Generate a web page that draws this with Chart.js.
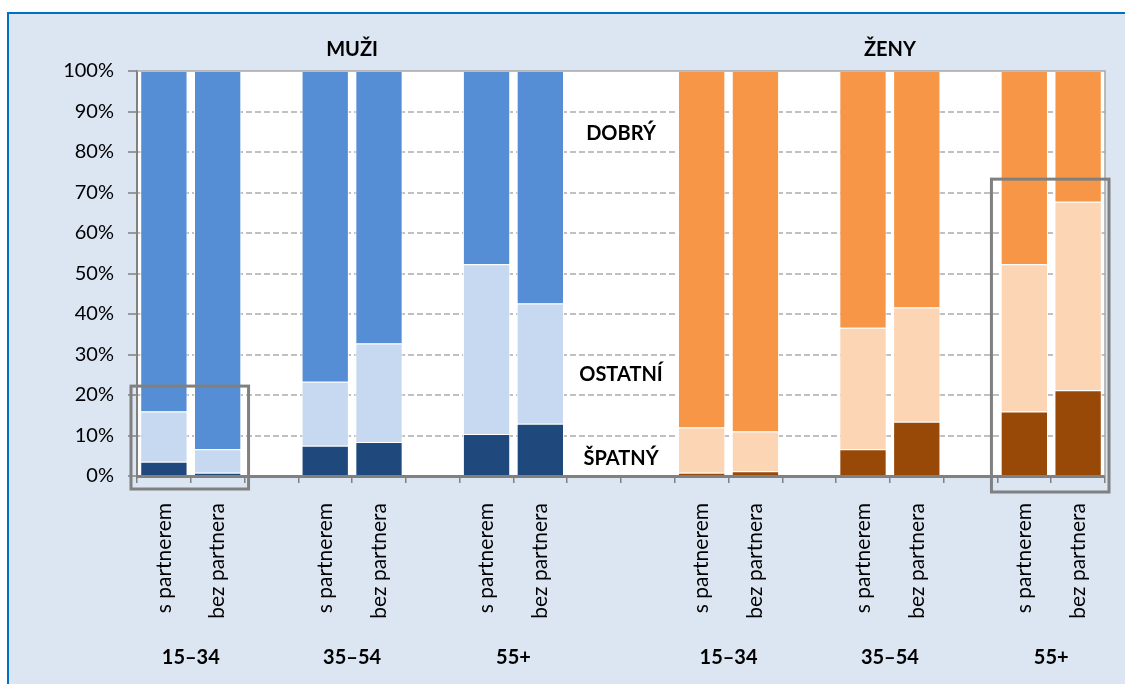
<!DOCTYPE html>
<html lang="cs">
<head>
<meta charset="utf-8">
<script src="https://cdn.jsdelivr.net/npm/chart.js@4.4.1/dist/chart.umd.min.js"></script>
<style>
  html, body { margin: 0; padding: 0; background: #fff; }
  #wrap { width: 1125px; height: 684px; position: relative; }
</style>
</head>
<body>
<div id="wrap"><canvas id="chart"></canvas></div>
<script>
// x slots, '' = empty spacer column
const xLabels = [
  's partnerem', 'bez partnera', '', 's partnerem', 'bez partnera', '', 's partnerem', 'bez partnera', '', '',
  's partnerem', 'bez partnera', '', 's partnerem', 'bez partnera', '', 's partnerem', 'bez partnera'
];
const sexes = ['MUŽI', 'ŽENY'];
const ageGroups = ['15–34', '35–54', '55+'];
const bandNames = ['DOBRÝ', 'OSTATNÍ', 'ŠPATNÝ'];

// shares in %, order: 15–34 s/bez, 35–54 s/bez, 55+ s/bez
const spatnyMuzi  = [3.5, 0.8, 7.5, 8.4, 10.4, 12.9];
const ostatniMuzi = [12.4, 5.8, 15.8, 24.3, 41.9, 29.7];
const dobryMuzi   = [84.1, 93.4, 76.7, 67.3, 47.7, 57.4];
const spatnyZeny  = [0.8, 1.2, 6.6, 13.4, 15.9, 21.2];
const ostatniZeny = [11.2, 9.8, 30.0, 28.2, 36.4, 46.5];
const dobryZeny   = [88.0, 89.0, 63.4, 58.4, 47.7, 32.3];

const yTicks = [0, 10, 20, 30, 40, 50, 60, 70, 80, 90, 100];

// colours: [muži, ženy]
const darkColors  = ['#1f497d', '#984807'];
const lightColors = ['#c6d9f1', '#fcd5b5'];
const midColors   = ['#558ed5', '#f79646'];

const barSlots = xLabels.map((l, i) => l ? i : -1).filter(i => i >= 0);

function spread(values) {
  const out = xLabels.map(() => null);
  barSlots.forEach((s, k) => { out[s] = values[k]; });
  return out;
}
function colorsFor(pair) {
  const out = xLabels.map(() => 'transparent');
  barSlots.forEach((s, k) => { out[s] = pair[k < 6 ? 0 : 1]; });
  return out;
}

const FONT = 'Lato, "Open Sans", sans-serif';

const decorPlugin = {
  id: 'decor',
  beforeDraw(chart) {
    const { ctx, chartArea: a } = chart;
    ctx.save();
    ctx.fillStyle = '#ffffff';
    ctx.fillRect(0, 0, chart.width, chart.height);
    ctx.fillStyle = '#dce6f2';
    ctx.fillRect(8, 12, chart.width - 8, chart.height - 12);
    ctx.strokeStyle = '#0070c0';
    ctx.lineWidth = 2;
    ctx.beginPath();
    ctx.moveTo(8, chart.height);
    ctx.lineTo(8, 13);
    ctx.lineTo(chart.width, 13);
    ctx.stroke();
    ctx.fillStyle = '#ffffff';
    ctx.fillRect(a.left, a.top, a.right - a.left, a.bottom - a.top);
    ctx.restore();
  },
  afterDatasetsDraw(chart) {
    const { ctx, chartArea: a, scales: { x, y } } = chart;
    const half = (x.getPixelForValue(1) - x.getPixelForValue(0)) / 2;
    ctx.save();
    // plot border top / right
    ctx.strokeStyle = '#a6a6a6';
    ctx.lineWidth = 1.5;
    ctx.beginPath();
    ctx.moveTo(a.left, a.top);
    ctx.lineTo(a.right, a.top);
    ctx.lineTo(a.right, a.bottom);
    ctx.stroke();

    // band names in the spacer columns
    ctx.fillStyle = '#000';
    ctx.font = 'bold 20px ' + FONT;
    ctx.textAlign = 'center';
    ctx.textBaseline = 'middle';
    const bandX = (x.getPixelForValue(8) + x.getPixelForValue(9)) / 2;
    const bandY = [84.5, 25, 4.3];
    bandNames.forEach((n, i) => ctx.fillText(n, bandX, y.getPixelForValue(bandY[i])));

    // highlight boxes
    ctx.strokeStyle = '#808080';
    ctx.lineWidth = 3;
    [[0, 1, 22.2, 13], [16, 17, 73.3, 16]].forEach(([from, to, top, below]) => {
      const l = x.getPixelForValue(from) - half - 6;
      const r = x.getPixelForValue(to) + half + 4;
      const t = y.getPixelForValue(top);
      ctx.strokeRect(l, t, r - l, a.bottom + below - t);
    });

    // sex and age labels
    ctx.font = 'bold 20px ' + FONT;
    sexes.forEach((s, i) => {
      const first = x.getPixelForValue(barSlots[i * 6]);
      const last = x.getPixelForValue(barSlots[i * 6 + 5]);
      ctx.fillText(s, (first + last) / 2, 50);
    });
    for (let k = 0; k < barSlots.length; k += 2) {
      const cx = (x.getPixelForValue(barSlots[k]) + x.getPixelForValue(barSlots[k + 1])) / 2;
      ctx.fillText(ageGroups[(k / 2) % 3], cx, 658);
    }
    ctx.restore();
  }
};

new Chart(document.getElementById('chart'), {
  type: 'bar',
  data: {
    labels: xLabels,
    datasets: [
      { label: 'ŠPATNÝ', data: spread(spatnyMuzi.concat(spatnyZeny)), backgroundColor: colorsFor(darkColors) },
      { label: 'OSTATNÍ', data: spread(ostatniMuzi.concat(ostatniZeny)), backgroundColor: colorsFor(lightColors) },
      { label: 'DOBRÝ', data: spread(dobryMuzi.concat(dobryZeny)), backgroundColor: colorsFor(midColors) }
    ].map(d => Object.assign(d, {
      borderColor: '#ffffff', borderWidth: 1, borderSkipped: 'bottom',
      barPercentage: 0.88, categoryPercentage: 1
    }))
  },
  options: {
    responsive: true,
    maintainAspectRatio: false,
    animation: false,
    layout: { padding: { top: 71, right: 20, left: 0, bottom: 0 } },
    plugins: { legend: { display: false }, tooltip: { enabled: false } },
    scales: {
      x: {
        stacked: true,
        afterFit: s => { s.height = 208; },
        grid: { offset: true, drawOnChartArea: false, tickLength: 7, color: '#808080', lineWidth: 1.5 },
        border: { color: '#808080', width: 3 },
        ticks: {
          autoSkip: false, maxRotation: 90, minRotation: 90, padding: 20,
          color: '#000', font: { family: FONT, size: 21 }
        }
      },
      y: {
        stacked: true,
        min: 0, max: 100,
        afterFit: s => { s.width = 137; },
        afterBuildTicks: s => { s.ticks = yTicks.map(v => ({ value: v })); },
        grid: {
          color: c => (c.tick && (c.tick.value === 0 || c.tick.value === 100)) ? 'transparent' : '#c0c0c0',
          lineWidth: 2, tickLength: 9, tickColor: '#808080', tickWidth: 1.5
        },
        border: { color: '#808080', width: 2, dash: [6, 3] },
        ticks: {
          padding: 14, color: '#000', font: { family: FONT, size: 20 },
          callback: v => v + '%'
        }
      }
    }
  },
  plugins: [decorPlugin]
});
</script>
</body>
</html>
